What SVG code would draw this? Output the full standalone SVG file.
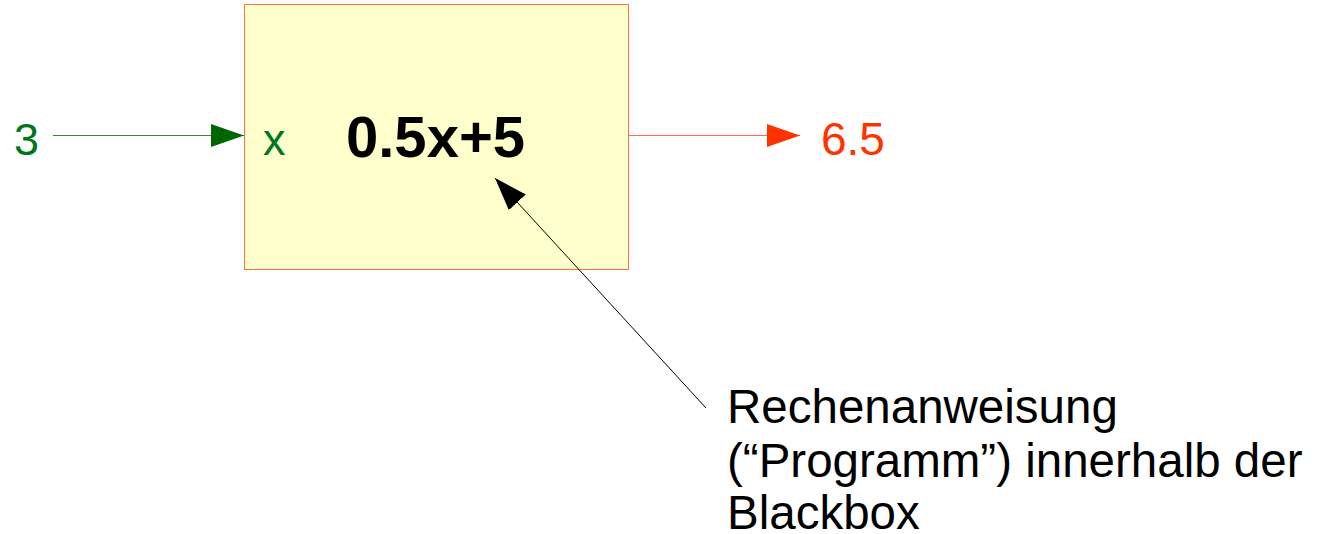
<svg xmlns="http://www.w3.org/2000/svg" width="1318" height="534" viewBox="0 0 1318 534">
<style>
.t{font-family:"Liberation Sans",Arial,sans-serif}
.g{fill:#00761e}
.r{fill:#ff3300}
</style>
<defs>
<marker id="ag" markerUnits="userSpaceOnUse" markerWidth="34" markerHeight="24" refX="33" refY="11.5" orient="auto"><path d="M0,0 L33,11.5 L0,23 Z" fill="#006600"/></marker>
<marker id="ar" markerUnits="userSpaceOnUse" markerWidth="34" markerHeight="24" refX="33" refY="11.5" orient="auto"><path d="M0,0 L33,11.5 L0,23 Z" fill="#ff3300"/></marker>
<marker id="ab" markerUnits="userSpaceOnUse" markerWidth="34" markerHeight="24" refX="33" refY="11.5" orient="auto"><path d="M0,0 L33,11.5 L0,23 Z" fill="#000"/></marker>
</defs>
<g id="box">
<rect x="244.5" y="4.5" width="384" height="265" fill="#ffffcc" stroke="#ff7043" stroke-width="1"/>
<text class="t g" x="263" y="155" font-size="45">x</text>
<text class="t" x="346" y="157" font-size="58" font-weight="bold" fill="#000">0.5x+5</text>
</g>
<g id="input"><text class="t g" x="14" y="155" font-size="45">3</text></g>
<g id="output"><text class="t r" x="821" y="155" font-size="46">6.5</text></g>
<g id="note"><text class="t" font-size="47.5" fill="#000"><tspan x="727" y="423">Rechenanweisung</tspan><tspan x="727" y="476.5">(“Programm”) innerhalb der</tspan><tspan x="727" y="529">Blackbox</tspan></text></g>
<g id="connectors" fill="none">
<line x1="53" y1="135.5" x2="244" y2="135.5" stroke="#3c8c3c" stroke-width="1" marker-end="url(#ag)"/>
<line x1="629" y1="135.5" x2="800" y2="135.5" stroke="#ff6e4a" stroke-width="1" marker-end="url(#ar)"/>
<line x1="706" y1="408" x2="495" y2="178" stroke="#000" stroke-width="1" marker-end="url(#ab)"/>
</g>
</svg>
